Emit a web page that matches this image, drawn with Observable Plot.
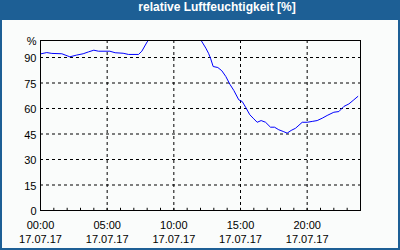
<!DOCTYPE html>
<html>
<head>
<meta charset="utf-8">
<script src="https://cdn.jsdelivr.net/npm/d3@7"></script>
<script src="https://cdn.jsdelivr.net/npm/@observablehq/plot@0.6"></script>
<style>
  html, body { margin: 0; padding: 0; background: #fff; }
  #wrap { width: 400px; height: 250px; box-sizing: border-box; border: 2px solid #1d5f95; border-top: none; background: #fafcfb; overflow: hidden; }
  #title { height: 20px; line-height: 20px; background: #1d5f95; color: #fff; font: bold 12px "Liberation Sans", Arial, sans-serif; text-align: center; padding-left: 34px; margin: 0 -2px; }
  svg { display: block; }
</style>
</head>
<body>
<div id="wrap"><div id="title">relative Luftfeuchtigkeit [%]</div><div id="chart"></div></div>
<script>
const hours = [0.05,0.47,0.85,1.6,2.2,2.7,3.2,3.6,4.0,4.35,5.2,5.6,6.2,6.6,7.35,7.6,8.0,8.1,9,10,11,12.05,12.4,12.6,12.75,12.95,13.3,13.6,13.9,14.2,14.5,14.87,15.13,15.38,15.7,16.0,16.25,16.55,16.88,17.25,17.55,17.87,18.2,18.5,18.8,19.13,19.63,20.0,20.38,20.75,21.13,21.5,22.0,22.38,22.75,23.13,23.5,23.8];
const humidity = [92.2,92.9,92.4,92.2,90.4,91.4,92.2,93.3,94.3,93.7,93.7,92.8,92.5,91.8,91.8,93.7,99.2,100,100,100,100,100,95.5,92.5,89.6,84.7,84.1,82.2,78.8,74.3,70.6,65.1,64.1,60.8,56.3,53.9,51.9,52.9,51.9,49.0,49.0,47.5,46.5,45.5,47.1,48.4,51.9,51.9,52.4,52.9,54.3,55.9,57.8,58.2,61.2,62.7,65.1,67.1];
const yTicks = [0,15,30,45,60,75,90];
const yTopLabel = "%";
const xTicks = [0,5,10,15,20];
const xTimeLabels = ["00:00","05:00","10:00","15:00","20:00"];
const xDateLabel = "17.07.17";
const minorTicks = d3.range(0, 25);

const data = hours.map((h, i) => ({h, v: humidity[i]}));
const xLab = xTicks.map((t, i) => ({t, time: xTimeLabels[i], date: xDateLabel}));
const yLab = yTicks.map(v => ({v, s: String(v)})).concat([{v: 100, s: yTopLabel}]);

const chart = Plot.plot({
  width: 396, height: 228,
  marginLeft: 38, marginRight: 38, marginTop: 20, marginBottom: 38,
  style: {background: "transparent", fontFamily: "'Liberation Sans', Arial, sans-serif", fontSize: "11px", color: "#000"},
  x: {domain: [0, 24], axis: null},
  y: {domain: [0, 100], axis: null},
  marks: [
    Plot.ruleY(yTicks.filter(d => d > 0), {stroke: "#000", strokeDasharray: "3,3", strokeWidth: 1}),
    Plot.ruleX(xTicks.filter(d => d > 0), {stroke: "#000", strokeDasharray: "3,3", strokeWidth: 1}),
    Plot.ruleX(minorTicks, {y1: 0, y2: 1.3, stroke: "#000"}),
    Plot.line(data, {x: "h", y: "v", stroke: "#0000ff", strokeWidth: 1, curve: "linear"}),
    Plot.frame({stroke: "#000", strokeWidth: 1}),
    Plot.text(yLab, {x: 0, y: "v", text: "s", textAnchor: "end", dx: -4, dy: 1, fill: "#000"}),
    Plot.text(xLab, {x: "t", y: 0, text: "time", dy: 15, fill: "#000"}),
    Plot.text(xLab, {x: "t", y: 0, text: "date", dy: 29, fill: "#000"})
  ]
});
document.getElementById("chart").appendChild(chart);
</script>
</body>
</html>
